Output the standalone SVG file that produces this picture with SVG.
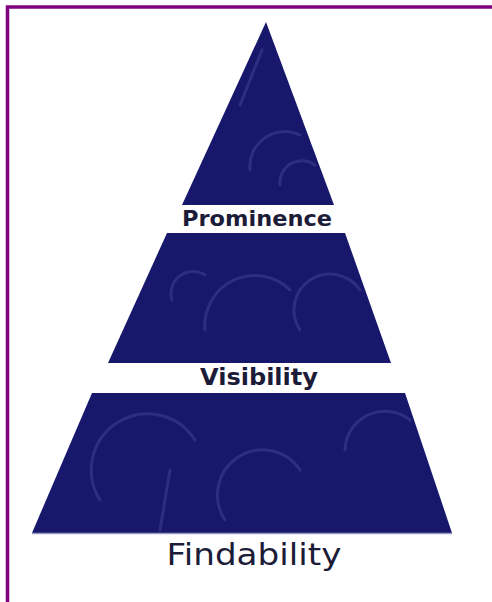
<svg xmlns="http://www.w3.org/2000/svg" width="492" height="602" viewBox="0 0 492 602">
  <style>
    .tier { fill: #17176c; }
    .swirl { fill: none; stroke: #8a8ad8; stroke-opacity: 0.2; stroke-width: 3; stroke-linecap: round; }
    .edge { fill: none; stroke: #9a9ac8; stroke-width: 1.5; }
    .lbl { font-family: "DejaVu Sans", Verdana, sans-serif; fill: #1c1c38; text-anchor: middle; }
    .border { stroke: #800080; stroke-width: 3.5; fill: none; }
  </style>
  <defs>
    <clipPath id="cTop"><polygon points="266,22 182,205 334,205"/></clipPath>
    <clipPath id="cMid"><polygon points="167,233 345,233 391,363 108,363"/></clipPath>
    <clipPath id="cBot"><polygon points="92,393 405,393 452,533 32,533"/></clipPath>
  </defs>
  <rect width="492" height="602" fill="#ffffff"/>
  <path class="border" d="M7.5,602 L7.5,7 L492,7"/>

  <g id="prominence">
    <polygon class="tier" points="266,22 182,205 334,205"/>
    <g clip-path="url(#cTop)">
      <path class="swirl" d="M262,50 L240,105"/>
      <path class="swirl" d="M250,170 A35,35 0 0 1 300,135"/>
      <path class="swirl" d="M280,185 A22,22 0 0 1 315,165"/>
    </g>
    <text class="lbl" x="257" y="226" font-size="22" font-weight="bold" textLength="150" lengthAdjust="spacingAndGlyphs">Prominence</text>
  </g>

  <g id="visibility">
    <polygon class="tier" points="167,233 345,233 391,363 108,363"/>
    <g clip-path="url(#cMid)">
      <path class="swirl" d="M205,330 A50,50 0 0 1 290,290"/>
      <path class="swirl" d="M172,300 A22,22 0 0 1 205,275"/>
      <path class="swirl" d="M300,330 A35,35 0 0 1 360,290"/>
    </g>
    <text class="lbl" x="259" y="385" font-size="23" font-weight="bold" textLength="118" lengthAdjust="spacingAndGlyphs">Visibility</text>
  </g>

  <g id="findability">
    <polygon class="tier" points="92,393 405,393 452,533 32,533"/>
    <g clip-path="url(#cBot)">
      <path class="swirl" d="M100,500 A55,55 0 0 1 195,440"/>
      <path class="swirl" d="M225,520 A45,45 0 0 1 300,470"/>
      <path class="swirl" d="M345,450 A40,40 0 0 1 410,420"/>
      <path class="swirl" d="M160,530 L170,470"/>
    </g>
    <line class="edge" x1="32" y1="533.5" x2="452" y2="533.5"/>
    <text class="lbl" x="254" y="565" font-size="31" textLength="175" lengthAdjust="spacingAndGlyphs">Findability</text>
  </g>

  <g id="connectors"/>
</svg>
